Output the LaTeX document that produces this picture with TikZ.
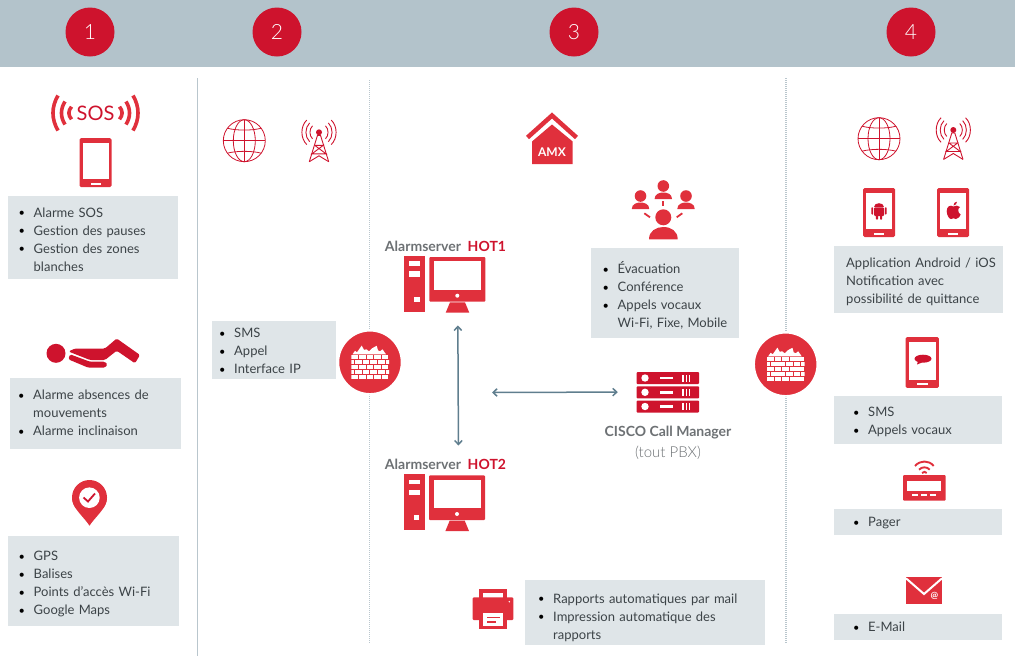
\documentclass[tikz,border=0pt]{standalone}
\usepackage{fontspec}
\setmainfont{Lato}
\newfontfamily\lightfont{Lato Light}
\usepackage{xcolor}
\usetikzlibrary{arrows.meta,positioning}
\definecolor{headgrey}{HTML}{B3C3CB}
\definecolor{boxgrey}{HTML}{DFE5E8}
\definecolor{boxtext}{HTML}{3C4347}
\definecolor{darkred}{HTML}{CE132D}
\definecolor{iconred}{HTML}{E0303C}
\definecolor{labelgrey}{HTML}{6D7174}
\definecolor{linkblue}{HTML}{5F7E8E}
\definecolor{rulegrey}{HTML}{B9C6CD}
\newcommand{\bul}{\makebox[13pt][l]{\hspace{-2pt}\textcolor{black}{\raisebox{.4pt}{\fontsize{11}{11}\selectfont\textbullet}}}}
\newcommand{\bulgap}{\hspace*{13pt}}
\tikzset{
    infobox/.style={
        rectangle,
        fill=boxgrey,
        anchor=north west,
        inner ysep=0pt,
        align=left,
        text=boxtext,
        font={\fontsize{13pt}{18pt}\selectfont}
    },
    roundnum/.style={
        circle,
        fill=darkred,
        text=white,
        minimum size=49pt,
        inner sep=0pt,
        font={\lightfont\fontsize{21pt}{22}\selectfont}
    },
    boldlabel/.style={
        text=labelgrey,
        inner sep=0pt,
        font={\bfseries\fontsize{14pt}{16}\selectfont}
    },
    iconspot/.style={inner sep=0pt},
    linkarrow/.style={draw=linkblue, line width=1.5pt, <->},
    dotrule/.style={draw=rulegrey, line width=1.3pt, dash pattern=on 1pt off 1pt},
    pics/phone/.style={code={
        \fill [iconred, rounded corners=1.5pt] (-16,-24.5) rectangle (16,24.5);
        \fill [white] (-13,-19.5) rectangle (13,16.5);
        \fill [white] (-5,20) rectangle (5,22);
    }},
    pics/globe/.style={code={
        \begin{scope}[draw=darkred, line width=.8pt]
        \draw (0,0) circle (21pt);
        \draw (0,0) ellipse (11pt and 21pt);
        \draw (0,-21) -- (0,21);
        \draw (-21,0) -- (21,0);
        \draw (-17,-12.5) .. controls (-8,-10) and (8,-10) .. (17,-12.5);
        \draw (-17,12.5) .. controls (-8,10) and (8,10) .. (17,12.5);
        \end{scope}
    }},
    pics/tower/.style={code={
        \begin{scope}[draw=darkred, line width=.9pt]
        \fill [darkred] (0,0) circle (3pt);
        \draw (-9.7,29.4) -- (-1.5,3) -- (1.5,3) -- (9.7,29.4);
        \draw (-4.3,13) -- (4.3,13) -- (-7,21.5) -- (7,21.5) -- (-4.3,13);
        \draw (-9.7,29.4) -- (0,23.5) -- (9.7,29.4);
        \foreach \r in {9,13,17}
          \foreach \s in {1,-1}
            \draw (\s*.72*\r,-.72*\r) .. controls (\s*1.1*\r,-.36*\r) and (\s*1.1*\r,.36*\r) .. (\s*.72*\r,.72*\r);
        \end{scope}
    }},
    pics/firewall/.style={code={
        \fill [iconred, draw=white, line width=1.5pt] (0,0) circle (31.5pt);
        \fill [white] (-17.5,-8) -- (-15,-11.5) -- (-13,-10) -- (-8.3,-16.7) -- (-6,-12.5) -- (-3.5,-13) -- (-1,-11)
          -- (2,-14) -- (6.7,-16.5) -- (8,-12) -- (10,-11) -- (12.5,-13) -- (16,-8) -- cycle;
        \begin{scope}
        \clip (-18.7,-8) rectangle (19,18);
        \foreach \y in {-7.3,2.7,12.7}
          \foreach \x in {-18.7,-11.1,-3.5,4.1,11.7}
            \fill [white] (\x,\y) rectangle ++(6.7,4);
        \foreach \y in {-2.3,7.7}
          \foreach \x in {-22.5,-14.9,-7.3,.3,7.9,15.5}
            \fill [white] (\x,\y) rectangle ++(6.7,4);
        \end{scope}
    }},
    pics/computer/.style={code={
        \fill [iconred] (0,0) rectangle (20.7,56);
        \fill [white] (5,5.6) rectangle (15.7,10.3);
        \fill [white] (5,15.6) rectangle (15.7,21);
        \fill [white] (10,41) rectangle (15.4,46);
        \fill [iconred, rounded corners=1pt] (25,1.3) rectangle (81,46);
        \fill [white] (29.7,5.6) rectangle (76.7,34.3);
        \fill [white] (53,40) circle (2pt);
        \fill [iconred] (45.7,46.6) -- (60.7,46.6) -- (65,57) -- (41.4,57) -- cycle;
    }},
    pics/serverbar/.style={code={
        \fill [darkred, rounded corners=.8pt] (0,0) rectangle (62.3,12);
        \fill [white] (8.3,6) circle (3.7pt);
        \fill [white] (23.3,4.8) rectangle (36,7.3);
        \foreach \x in {45.6,49,52.3}
          \fill [white] (\x,2.5) rectangle ++(1.4,7);
    }},
    pics/smallperson/.style={code={
        \fill [iconred] (0,0) circle (5.8pt);
        \fill [iconred] (-8.7,13) .. controls (-8.7,8) and (-4,6.5) .. (0,6.5)
          .. controls (4,6.5) and (8.7,8) .. (8.7,13) -- cycle;
    }},
}
\begin{document}
\begin{tikzpicture}[x=1pt, y=-1pt, >={Straight Barb[length=4pt,width=7.5pt]}]

\useasboundingbox (0,0) rectangle (1015,670);
\fill [headgrey] (0,0) rectangle (1015,67);

\foreach \n/\x in {1/90,2/277,3/574,4/911}
  \node [roundnum] (num\n) at (\x,32) {\n};

\draw [rulegrey, line width=1pt] (197,78) -- (197,656);
\draw [dotrule] (369.5,80) -- (369.5,644);
\draw [dotrule] (786,78) -- (786,644);

% column 1
\begin{scope}[shift={(95.5,113)}]
\foreach \s in {1,-1} {
  \begin{scope}[xscale=\s, draw=iconred, line width=3.6pt]
  \draw (-37.5,-17.5) .. controls (-44.2,-6) and (-44.2,6) .. (-37.5,17.5);
  \draw (-30.5,-11.5) .. controls (-35.2,-4) and (-35.2,4) .. (-30.5,11.5);
  \draw (-24,-6.3) .. controls (-27.5,-2) and (-27.5,2) .. (-24,6.3);
  \end{scope}
}
\end{scope}
\node [text=darkred, inner sep=0pt, font={\fontsize{20pt}{20}\selectfont}] (sosText) at (95.5,113.5) {SOS};
\pic at (95.5,162.5) {phone};
\node [infobox, inner xsep=12.5pt, text width=145pt, minimum height=83pt, text height=13pt] (boxSos) at (8,196)
  {\bul Alarme SOS\\\bul Gestion des pauses\\\bul Gestion des zones\\\bulgap blanches};

\fill [darkred] (56,353.3) circle (9.5pt);
\fill [darkred, rounded corners=1.5pt] (68.5,351.5) -- (75,348.5) -- (105,348.5) -- (116.7,338.5) -- (140,355)
  -- (135,363.3) -- (116.7,350.7) -- (105,360) -- (90,360) -- cycle;
\fill [darkred, rounded corners=1.5pt] (70,354.3) -- (90,361.7) -- (105,361.7) -- (107.5,364.5) -- (105,367.7)
  -- (88.3,367.7) -- (68.3,359.3) -- cycle;
\node [infobox, inner xsep=10pt, text width=151pt, minimum height=71pt, text depth=37pt] (boxMove) at (10,378)
  {\bul Alarme absences de\\\bulgap mouvements\\\bul Alarme inclinaison};

\fill [iconred] (89.5,497.5) circle (17.5pt);
\fill [iconred] (107,497.5) .. controls (107,508) and (95,517) .. (89.5,525.7)
  .. controls (84,517) and (72,508) .. (72,497.5) -- cycle;
\fill [white] (89.4,497.7) circle (10.3pt);
\draw [darkred, line width=1.8pt] (83.5,497.5) -- (88,501.5) -- (95,493.5);
\node [infobox, inner xsep=12.5pt, text width=146pt, minimum height=90pt, text height=15pt] (boxGps) at (8,536)
  {\bul GPS\\\bul Balises\\\bul Points d’accès Wi-Fi\\\bul Google Maps};

% column 2
\pic at (244.3,140.7) {globe};
\pic at (319,132.3) {tower};
\node [infobox, inner xsep=9pt, text width=105.7pt, minimum height=58pt, text height=11pt] (boxSms) at (212,321)
  {\bul SMS\\\bul Appel\\\bul Interface IP};
\pic at (370,362.3) {firewall};

% column 3
\fill [iconred] (532,141.5) -- (552,124.5) -- (572.7,141.5) -- (572.7,164) -- (532,164) -- cycle;
\draw [iconred, line width=4.5pt] (527.5,137.5) -- (552,115.5) -- (576.5,137.5);
\node [text=white, inner sep=0pt, font={\bfseries\fontsize{12pt}{12}\selectfont}] (amxLabel) at (552,152.3) {AMX};

\pic at (663.3,186) {smallperson};
\pic at (640.5,196) {smallperson};
\pic at (686,196) {smallperson};
\fill [iconred] (663.3,217.3) circle (8pt);
\fill [iconred] (649,239.3) .. controls (649,231) and (656,227) .. (663.3,227)
  .. controls (671,227) and (677.7,231) .. (677.7,239.3) -- cycle;
\draw [iconred, line width=1.8pt] (663.3,201) -- (663.3,206);
\draw [iconred, line width=1.8pt] (644.3,213.3) -- (650,217.3);
\draw [iconred, line width=1.8pt] (682.3,213.3) -- (676.7,217.3);
\node [infobox, inner xsep=13.5pt, text width=121pt, minimum height=90pt, text height=17pt] (boxCall) at (591,248)
  {\bul Évacuation\\\bul Conférence\\\bul Appels vocaux\\\bulgap\mbox{Wi-Fi, Fixe, Mobile}};

\node [boldlabel] (labelHot1) at (445.5,246) {Alarmserver\ \ \textcolor{darkred}{HOT1}};
\pic at (404.3,255.7) {computer};
\node [iconspot, minimum width=81pt, minimum height=57pt] (hot1) at (444.8,284.7) {};

\node [boldlabel] (labelHot2) at (445.5,464) {Alarmserver\ \ \textcolor{darkred}{HOT2}};
\pic at (404,474) {computer};

\foreach \y in {372,386.3,400.5}
  \pic at (636.7,\y) {serverbar};
\node [iconspot, minimum width=62pt, minimum height=40pt] (cisco) at (668,392) {};
\node [boldlabel] (labelCisco) at (668,432.5) {CISCO Call Manager};
\node [text=labelgrey, inner sep=0pt, font={\lightfont\fontsize{15pt}{16}\selectfont}] (labelPbx) at (668,453) {(tout PBX)};
\coordinate (linkStart) at (492,392.5);

\draw [linkarrow, shorten <=12pt, shorten >=13pt] ([xshift=13pt]hot1.south) -- ([xshift=13pt]labelHot2.north);
\draw [linkarrow, shorten >=19pt] (linkStart) -- (cisco.west);

\fill [iconred] (479,589) rectangle (507,598);
\fill [white] (482.7,592.7) rectangle (503.3,598);
\fill [iconred, rounded corners=1pt] (472.7,597.3) rectangle (513.3,620);
\fill [white] (509.3,601.7) circle (.8pt);
\fill [iconred] (479,609.3) rectangle (507,629.3);
\fill [white] (482.7,613.3) rectangle (503.3,626);
\fill [iconred] (486.7,617) rectangle (500,618.4);
\fill [iconred] (486.7,621.3) rectangle (495.7,622.7);
\node [infobox, inner xsep=15pt, text width=210pt, minimum height=65pt, text height=19pt] (boxReport) at (525,580)
  {\bul Rapports automatiques par mail\\\bul Impression automatique des\\\bulgap rapports};

% column 4
\pic at (785.7,364.3) {firewall};
\pic at (879,138.7) {globe};
\pic at (953.3,130) {tower};

\pic at (879,212.5) {phone};
\fill [darkred] (874,206.5) .. controls (874,202) and (884,202) .. (884,206.5) -- cycle;
\fill [darkred, rounded corners=1pt] (874,207.3) rectangle (884,216);
\fill [darkred, rounded corners=.7pt] (871.4,207.3) rectangle (873.2,214.5);
\fill [darkred, rounded corners=.7pt] (884.8,207.3) rectangle (886.6,214.5);
\fill [darkred, rounded corners=.7pt] (875.8,215) rectangle (878,219.5);
\fill [darkred, rounded corners=.7pt] (880,215) rectangle (882.2,219.5);

\pic at (953,212.5) {phone};
\fill [darkred] (953.5,206.5) .. controls (950,204.5) and (946.7,206.5) .. (946.7,211)
  .. controls (946.7,215) and (949,219) .. (951,219) .. controls (952,219) and (952.5,218.3) .. (953.5,218.3)
  .. controls (954.5,218.3) and (955,219) .. (956,219) .. controls (958,219) and (960.5,216) .. (960.7,214.5)
  .. controls (957.5,213) and (957.5,208) .. (960,207) .. controls (958,205) and (955.5,205.5) .. (953.5,206.5) -- cycle;
\fill [darkred] (953.5,205.5) .. controls (953.5,203) and (955,202) .. (957,201.7)
  .. controls (957,204) and (955.5,205) .. (953.5,205.5) -- cycle;
\node [infobox, inner xsep=12pt, text width=144.5pt, minimum height=67pt, text height=13pt] (boxApp) at (834,246)
  {\mbox{Application Android / iOS}\\Notification avec\\possibilité de quittance};

\pic [scale=1.04] at (922.3,362.5) {phone};
\fill [darkred] (923,358.7) ellipse (8.5pt and 4pt);
\fill [darkred] (918,361) -- (917,364.5) -- (922,362.5) -- cycle;
\node [infobox, inner xsep=21pt, text width=126pt, minimum height=48pt, text height=13pt] (boxVoice) at (834,396)
  {\bul SMS\\\bul Appels vocaux};

\begin{scope}[draw=iconred, line width=1.9pt]
\draw (915,466) .. controls (920,460) and (929,460) .. (933.7,466);
\draw (919,469.7) .. controls (922,466.5) and (927,466.5) .. (929.7,469.7);
\draw (922,473) .. controls (923.5,471.5) and (925.5,471.5) .. (926.7,473);
\end{scope}
\fill [iconred, rounded corners=1pt] (903,475) rectangle (945.7,500.7);
\fill [white] (907.3,481.3) rectangle (941.3,490.7);
\foreach \x in {912.3,921.3,930.3}
  \fill [white] (\x,494) rectangle ++(6,2.3);
\node [infobox, inner xsep=21pt, text width=126pt, minimum height=26pt, text height=11pt] (boxPager) at (834,509) {\bul Pager};

\fill [iconred] (906,577) rectangle (942,603.7);
\draw [white, line width=2pt] (906,578.3) -- (924,594) -- (942,578.3);
\node [text=white, inner sep=0pt, font={\bfseries\fontsize{9pt}{10}\selectfont}] (mailAt) at (934.3,595.7) {@};
\node [infobox, inner xsep=21pt, text width=126pt, minimum height=26pt] (boxMail) at (834,614) {\bul E-Mail};

\end{tikzpicture}
\end{document}
